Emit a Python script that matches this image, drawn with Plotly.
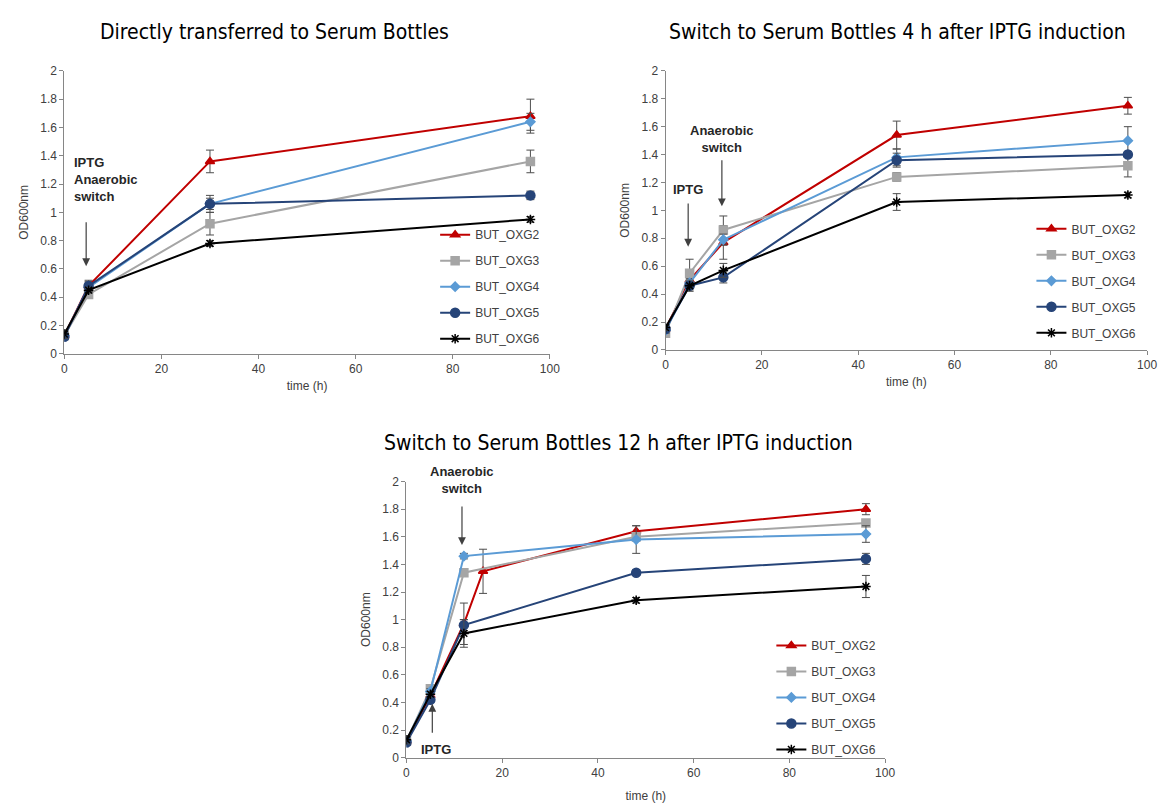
import plotly.graph_objects as go

# ---------------- data ----------------
names = ["BUT_OXG2", "BUT_OXG3", "BUT_OXG4", "BUT_OXG5", "BUT_OXG6"]

# Panel 1: Directly transferred
p1_t = [0, 5, 30, 96]
p1_oxg2 = [0.13, 0.48, 1.36, 1.68]
p1_oxg2_err = [0.02, 0.03, 0.08, 0.12]
p1_oxg3 = [0.13, 0.42, 0.92, 1.36]
p1_oxg3_err = [0.02, 0.02, 0.08, 0.08]
p1_oxg4 = [0.13, 0.47, 1.06, 1.64]
p1_oxg4_err = [0.02, 0.03, 0.04, 0.06]
p1_oxg5 = [0.12, 0.48, 1.06, 1.12]
p1_oxg5_err = [0.02, 0.04, 0.06, 0.03]
p1_oxg6 = [0.14, 0.45, 0.78, 0.95]
p1_oxg6_err = [0.03, 0.02, 0.02, 0.02]

# Panel 2: switch 4 h after IPTG
p2_t = [0, 5, 12, 48, 96]
p2_oxg2 = [0.15, 0.50, 0.77, 1.54, 1.75]
p2_oxg2_err = [0.02, 0.04, 0.12, 0.10, 0.06]
p2_oxg3 = [0.12, 0.55, 0.86, 1.24, 1.32]
p2_oxg3_err = [0.02, 0.10, 0.10, 0.03, 0.08]
p2_oxg4 = [0.14, 0.48, 0.79, 1.38, 1.50]
p2_oxg4_err = [0.02, 0.03, 0.04, 0.06, 0.10]
p2_oxg5 = [0.15, 0.46, 0.52, 1.36, 1.40]
p2_oxg5_err = [0.02, 0.03, 0.04, 0.05, 0.02]
p2_oxg6 = [0.16, 0.46, 0.57, 1.06, 1.11]
p2_oxg6_err = [0.02, 0.04, 0.05, 0.06, 0.02]

# Panel 3: switch 12 h after IPTG
p3_t = [0, 5, 12, 48, 96]
p3_t_oxg2 = [0, 5, 12, 16, 48, 96]
p3_oxg2 = [0.12, 0.45, 0.97, 1.35, 1.64, 1.80]
p3_oxg2_err = [0.02, 0.03, 0.15, 0.16, 0.04, 0.04]
p3_oxg3 = [0.12, 0.50, 1.34, 1.60, 1.70]
p3_oxg3_err = [0.02, 0.02, 0.02, 0.03, 0.02]
p3_oxg4 = [0.12, 0.48, 1.46, 1.58, 1.62]
p3_oxg4_err = [0.02, 0.02, 0.02, 0.10, 0.06]
p3_oxg5 = [0.11, 0.42, 0.96, 1.34, 1.44]
p3_oxg5_err = [0.02, 0.02, 0.04, 0.02, 0.04]
p3_oxg6 = [0.13, 0.46, 0.90, 1.14, 1.24]
p3_oxg6_err = [0.03, 0.02, 0.10, 0.02, 0.08]

titles = ["Directly transferred to Serum Bottles",
          "Switch to Serum Bottles 4 h after IPTG induction",
          "Switch to Serum Bottles 12 h after IPTG induction"]

# ---------------- styles ----------------
colors = ["#C00000", "#A5A5A5", "#5B9BD5", "#264478", "#000000"]
symbols = ["triangle-up", "square", "diamond", "circle", "asterisk-open"]
msizes = [8, 8, 7, 9, 8]
W, H = 1168, 803

panels = [
    dict(t=[p1_t] * 5,
         y=[p1_oxg2, p1_oxg3, p1_oxg4, p1_oxg5, p1_oxg6],
         e=[p1_oxg2_err, p1_oxg3_err, p1_oxg4_err, p1_oxg5_err, p1_oxg6_err]),
    dict(t=[p2_t] * 5,
         y=[p2_oxg2, p2_oxg3, p2_oxg4, p2_oxg5, p2_oxg6],
         e=[p2_oxg2_err, p2_oxg3_err, p2_oxg4_err, p2_oxg5_err, p2_oxg6_err]),
    dict(t=[p3_t_oxg2, p3_t, p3_t, p3_t, p3_t],
         y=[p3_oxg2, p3_oxg3, p3_oxg4, p3_oxg5, p3_oxg6],
         e=[p3_oxg2_err, p3_oxg3_err, p3_oxg4_err, p3_oxg5_err, p3_oxg6_err]),
]

# pixel boxes (left, right, top, bottom)
boxes = [(62, 553, 65, 353), (670, 1157, 65, 349), (408, 892, 483, 764)]
legend_pos = [(437, 217), (1040, 211), (777, 635)]
xtitle_standoff = [6, 6, 12]

fig = go.Figure()
legend_keys = ["legend", "legend2", "legend3"]
for pi, p in enumerate(panels):
    xa = "x" if pi == 0 else f"x{pi+1}"
    ya = "y" if pi == 0 else f"y{pi+1}"
    for si in range(5):
        fig.add_trace(go.Scatter(
            x=p["t"][si], y=p["y"][si], name=names[si], mode="lines+markers",
            xaxis=xa, yaxis=ya, legend=legend_keys[pi],
            legendgroup=f"{pi}_{si}",
            line=dict(color=colors[si], width=2),
            marker=dict(symbol=symbols[si], size=msizes[si], color=colors[si],
                        line=dict(color=colors[si], width=1.5)),
            error_y=dict(type="data", array=p["e"][si], color="#4d4d4d",
                         thickness=1, width=4),
        ))

layout = dict(
    width=W, height=H, margin=dict(l=0, r=0, t=0, b=0),
    paper_bgcolor="white", plot_bgcolor="white",
    font=dict(family="Liberation Sans, Arial, sans-serif", color="#404040", size=12),
    showlegend=True,
)
axis_common = dict(showgrid=False, zeroline=False, showline=True,
                   linecolor="#868686", linewidth=1, ticks="outside",
                   ticklen=4, tickcolor="#868686",
                   tickfont=dict(size=12, color="#404040"))
for pi, (l, r, t, b) in enumerate(boxes):
    sfx = "" if pi == 0 else str(pi + 1)
    layout["xaxis" + sfx] = dict(axis_common, domain=[l / W, r / W], range=[0, 100],
                                 dtick=20, anchor="y" + sfx,
                                 title=dict(text="time (h)", font=dict(size=12, color="#404040"),
                                            standoff=xtitle_standoff[pi]))
    layout["yaxis" + sfx] = dict(axis_common, domain=[1 - b / H, 1 - t / H], range=[0, 2],
                                 dtick=0.2, anchor="x" + sfx,
                                 title=dict(text="OD600nm", font=dict(size=12, color="#404040"),
                                            standoff=9))
    lx, ly = legend_pos[pi]
    layout[legend_keys[pi]] = dict(x=lx / W, y=1 - ly / H, xanchor="left", yanchor="top",
                                   bgcolor="rgba(0,0,0,0)", tracegroupgap=7,
                                   font=dict(size=12, color="#404040"))
fig.update_layout(**layout)

# titles
title_pos = [(275, 25), (905, 25), (622, 444)]
for txt, (cx, cy) in zip(titles, title_pos):
    fig.add_annotation(text=txt, x=cx / W, y=1 - cy / H, xref="paper", yref="paper",
                       showarrow=False, xanchor="center", yanchor="middle",
                       font=dict(family="DejaVu Sans Condensed, Liberation Sans Narrow, sans-serif",
                                 size=21, color="#000000"))

bold = dict(family="Liberation Sans, Arial, sans-serif", size=13, color="#262626")
arrow_col = "#404040"

def arrow(xref, yref, x, y0, y1):
    fig.add_annotation(x=x, y=y1, ax=x, ay=y0, xref=xref, yref=yref,
                       axref=xref, ayref=yref, text="", showarrow=True,
                       arrowhead=2, arrowsize=1.3, arrowwidth=1.2, arrowcolor=arrow_col)

# panel 1 annotations
fig.add_annotation(text="<b>IPTG<br>Anaerobic<br>switch</b>", x=1.5, y=1.42, xref="x", yref="y",
                   showarrow=False, xanchor="left", yanchor="top", align="left", font=bold)
arrow("x", "y", 4.5, 0.94, 0.62)
# panel 2 annotations
fig.add_annotation(text="<b>IPTG</b>", x=4.7, y=1.08, xref="x2", yref="y2",
                   showarrow=False, xanchor="center", yanchor="bottom", font=bold)
arrow("x2", "y2", 4.7, 1.06, 0.74)
fig.add_annotation(text="<b>Anaerobic<br>switch</b>", x=11.7, y=1.38, xref="x2", yref="y2",
                   showarrow=False, xanchor="center", yanchor="bottom", font=bold)
arrow("x2", "y2", 11.7, 1.37, 1.03)
# panel 3 annotations
fig.add_annotation(text="<b>Anaerobic<br>switch</b>", x=11.6, y=1.88, xref="x3", yref="y3",
                   showarrow=False, xanchor="center", yanchor="bottom", font=bold)
arrow("x3", "y3", 11.6, 1.83, 1.54)
fig.add_annotation(text="<b>IPTG</b>", x=6.2, y=0.13, xref="x3", yref="y3",
                   showarrow=False, xanchor="center", yanchor="top", font=bold)
arrow("x3", "y3", 5.4, 0.17, 0.39)

fig.write_html("out.html")
